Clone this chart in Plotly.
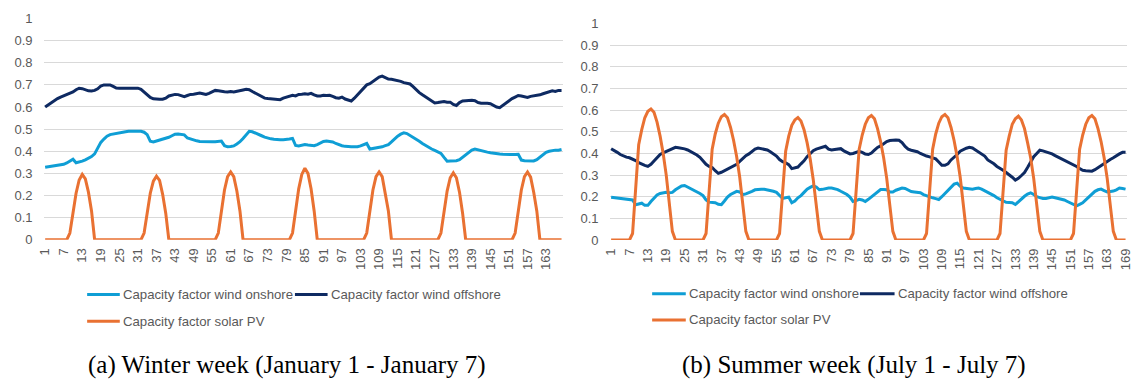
import plotly.graph_objects as go

# ---------------- data ----------------
winter_hours = list(range(1, 169))
summer_hours = list(range(1, 170))
winter_ticks = list(range(1, 169, 6))
summer_ticks = list(range(1, 170, 6))

winter_onshore = [
    0.328, 0.330, 0.331, 0.332, 0.335, 0.338, 0.341, 0.347, 0.355, 0.364, 0.348, 0.350,
    0.355, 0.361, 0.367, 0.376, 0.388, 0.415, 0.440, 0.455, 0.468, 0.475, 0.478, 0.482,
    0.485, 0.486, 0.488, 0.490, 0.490, 0.490, 0.490, 0.490, 0.486, 0.475, 0.445, 0.442,
    0.446, 0.450, 0.454, 0.458, 0.463, 0.470, 0.477, 0.478, 0.477, 0.474, 0.460, 0.455,
    0.452, 0.447, 0.444, 0.443, 0.443, 0.443, 0.443, 0.443, 0.444, 0.446, 0.425, 0.420,
    0.421, 0.424, 0.433, 0.443, 0.458, 0.476, 0.490, 0.488, 0.483, 0.477, 0.470, 0.464,
    0.459, 0.456, 0.454, 0.452, 0.452, 0.452, 0.452, 0.455, 0.458, 0.426, 0.424, 0.428,
    0.430, 0.428, 0.426, 0.425, 0.430, 0.438, 0.444, 0.446, 0.444, 0.442, 0.435, 0.429,
    0.425, 0.422, 0.420, 0.420, 0.420, 0.420, 0.424, 0.430, 0.435, 0.410, 0.412, 0.415,
    0.418, 0.420, 0.425, 0.430, 0.442, 0.456, 0.468, 0.477, 0.483, 0.480, 0.472, 0.463,
    0.455, 0.445, 0.435, 0.426, 0.418, 0.410, 0.404, 0.397, 0.390, 0.372, 0.355, 0.356,
    0.356, 0.357, 0.362, 0.372, 0.384, 0.395, 0.405, 0.410, 0.406, 0.401, 0.400, 0.396,
    0.393, 0.390, 0.389, 0.387, 0.386, 0.385, 0.387, 0.386, 0.385, 0.386, 0.360, 0.357,
    0.357, 0.357, 0.356, 0.362, 0.372, 0.385, 0.395, 0.400, 0.403, 0.405, 0.405, 0.408,
]

winter_offshore = [
    0.600, 0.610, 0.620, 0.630, 0.638, 0.645, 0.650, 0.655, 0.662, 0.668, 0.678, 0.685,
    0.683, 0.677, 0.673, 0.672, 0.675, 0.682, 0.695, 0.700, 0.701, 0.700, 0.693, 0.686,
    0.685, 0.685, 0.684, 0.683, 0.683, 0.682, 0.685, 0.680, 0.668, 0.658, 0.643, 0.637,
    0.635, 0.635, 0.635, 0.640, 0.650, 0.654, 0.657, 0.656, 0.652, 0.647, 0.652, 0.657,
    0.658, 0.661, 0.663, 0.660, 0.657, 0.662, 0.670, 0.675, 0.673, 0.670, 0.669, 0.668,
    0.670, 0.668, 0.672, 0.674, 0.677, 0.680, 0.678, 0.670, 0.663, 0.655, 0.647, 0.640,
    0.638, 0.637, 0.637, 0.636, 0.633, 0.640, 0.645, 0.648, 0.653, 0.650, 0.657, 0.658,
    0.660, 0.658, 0.662, 0.655, 0.650, 0.650, 0.653, 0.652, 0.653, 0.648, 0.642, 0.640,
    0.645, 0.636, 0.630, 0.627, 0.640, 0.655, 0.668, 0.685, 0.700, 0.705, 0.715, 0.727,
    0.735, 0.740, 0.733, 0.726, 0.725, 0.723, 0.720, 0.716, 0.710, 0.707, 0.704, 0.692,
    0.678, 0.665, 0.655, 0.645, 0.638, 0.628, 0.618, 0.620, 0.624, 0.625, 0.622, 0.622,
    0.612, 0.607, 0.620, 0.627, 0.628, 0.630, 0.630, 0.628, 0.620, 0.617, 0.618, 0.617,
    0.615, 0.608, 0.600, 0.597, 0.607, 0.620, 0.630, 0.638, 0.645, 0.652, 0.650, 0.645,
    0.643, 0.648, 0.650, 0.653, 0.655, 0.660, 0.665, 0.670, 0.673, 0.670, 0.675, 0.675,
]

winter_solar_day1 = [0, 0, 0, 0, 0, 0, 0, 0, 0.03, 0.13, 0.21, 0.27, 0.295, 0.275, 0.215, 0.13, 0, 0, 0, 0, 0, 0, 0, 0]
winter_solar_day2 = [0, 0, 0, 0, 0, 0, 0, 0, 0.03, 0.12, 0.21, 0.265, 0.287, 0.268, 0.205, 0.12, 0, 0, 0, 0, 0, 0, 0, 0]
winter_solar_day3 = [0, 0, 0, 0, 0, 0, 0, 0, 0.03, 0.14, 0.225, 0.285, 0.306, 0.285, 0.22, 0.13, 0, 0, 0, 0, 0, 0, 0, 0]
winter_solar_day4 = [0, 0, 0, 0, 0, 0, 0, 0, 0.03, 0.14, 0.23, 0.295, 0.323, 0.30, 0.23, 0.13, 0, 0, 0, 0, 0, 0, 0, 0]
winter_solar_day5 = [0, 0, 0, 0, 0, 0, 0, 0, 0.03, 0.14, 0.225, 0.285, 0.306, 0.285, 0.215, 0.13, 0, 0, 0, 0, 0, 0, 0, 0]
winter_solar_day6 = [0, 0, 0, 0, 0, 0, 0, 0, 0.03, 0.13, 0.22, 0.28, 0.302, 0.28, 0.215, 0.12, 0, 0, 0, 0, 0, 0, 0, 0]
winter_solar_day7 = [0, 0, 0, 0, 0, 0, 0, 0, 0.03, 0.14, 0.225, 0.285, 0.306, 0.283, 0.215, 0.13, 0, 0, 0, 0, 0, 0, 0, 0]
winter_solar = (winter_solar_day1 + winter_solar_day2 + winter_solar_day3 + winter_solar_day4
                + winter_solar_day5 + winter_solar_day6 + winter_solar_day7)

summer_onshore = [
    0.198, 0.196, 0.193, 0.190, 0.188, 0.187, 0.186, 0.185, 0.163, 0.165, 0.170, 0.160,
    0.160, 0.178, 0.195, 0.208, 0.215, 0.218, 0.220, 0.218, 0.220, 0.232, 0.240, 0.250,
    0.252, 0.245, 0.235, 0.228, 0.222, 0.215, 0.205, 0.185, 0.175, 0.175, 0.172, 0.165,
    0.163, 0.180, 0.198, 0.210, 0.218, 0.225, 0.222, 0.210, 0.213, 0.218, 0.225, 0.232,
    0.235, 0.235, 0.234, 0.232, 0.228, 0.225, 0.220, 0.205, 0.192, 0.195, 0.198, 0.172,
    0.180, 0.195, 0.205, 0.220, 0.235, 0.243, 0.250, 0.245, 0.232, 0.234, 0.238, 0.240,
    0.240, 0.238, 0.233, 0.225, 0.218, 0.210, 0.198, 0.178, 0.182, 0.188, 0.185, 0.178,
    0.188, 0.200, 0.212, 0.225, 0.233, 0.233, 0.232, 0.222, 0.222, 0.230, 0.236, 0.240,
    0.238, 0.230, 0.224, 0.222, 0.220, 0.218, 0.210, 0.204, 0.200, 0.195, 0.191, 0.187,
    0.200, 0.215, 0.232, 0.248, 0.258, 0.262, 0.248, 0.240, 0.238, 0.236, 0.235, 0.238,
    0.240, 0.235, 0.228, 0.222, 0.213, 0.205, 0.195, 0.188, 0.180, 0.174, 0.173, 0.172,
    0.164, 0.178, 0.190, 0.202, 0.212, 0.218, 0.210, 0.200, 0.196, 0.192, 0.192, 0.195,
    0.198, 0.195, 0.192, 0.188, 0.185, 0.178, 0.172, 0.165, 0.158, 0.165, 0.172, 0.185,
    0.200, 0.215, 0.225, 0.232, 0.235, 0.228, 0.222, 0.224, 0.226, 0.232, 0.240, 0.238,
    0.235,
]

summer_offshore = [
    0.422, 0.415, 0.405, 0.395, 0.387, 0.383, 0.380, 0.375, 0.367, 0.357, 0.350, 0.345,
    0.340, 0.350, 0.365, 0.380, 0.395, 0.403, 0.410, 0.415, 0.423, 0.428, 0.426, 0.424,
    0.421, 0.416, 0.408, 0.402, 0.393, 0.382, 0.365, 0.350, 0.340, 0.335, 0.320, 0.308,
    0.313, 0.320, 0.327, 0.335, 0.342, 0.350, 0.363, 0.378, 0.390, 0.398, 0.410, 0.420,
    0.425, 0.422, 0.420, 0.416, 0.408, 0.398, 0.388, 0.372, 0.362, 0.357, 0.348, 0.330,
    0.332, 0.337, 0.352, 0.366, 0.385, 0.400, 0.413, 0.420, 0.425, 0.428, 0.433, 0.420,
    0.416, 0.418, 0.420, 0.422, 0.412, 0.403, 0.398, 0.400, 0.404, 0.410, 0.405, 0.397,
    0.395, 0.402, 0.415, 0.428, 0.435, 0.445, 0.455, 0.460, 0.462, 0.462, 0.461, 0.450,
    0.432, 0.420, 0.415, 0.412, 0.408, 0.400, 0.393, 0.388, 0.384, 0.380, 0.375, 0.360,
    0.345, 0.345, 0.352, 0.370, 0.385, 0.395, 0.410, 0.418, 0.424, 0.428, 0.425, 0.416,
    0.408, 0.398, 0.388, 0.370, 0.362, 0.352, 0.340, 0.332, 0.322, 0.312, 0.302, 0.290,
    0.277, 0.285, 0.298, 0.312, 0.335, 0.360, 0.385, 0.400, 0.415, 0.412, 0.408, 0.403,
    0.398, 0.390, 0.383, 0.378, 0.370, 0.362, 0.355, 0.348, 0.340, 0.330, 0.322, 0.320,
    0.318, 0.318, 0.325, 0.335, 0.343, 0.352, 0.362, 0.372, 0.380, 0.390, 0.398, 0.405,
    0.405,
]

summer_solar_day1 = [0, 0, 0, 0, 0, 0, 0, 0.03, 0.25, 0.44, 0.51, 0.565, 0.595, 0.605, 0.59, 0.545, 0.48, 0.40, 0.30, 0.16, 0.04, 0, 0, 0]
summer_solar_day2 = [0, 0, 0, 0, 0, 0, 0, 0.03, 0.24, 0.42, 0.49, 0.54, 0.57, 0.58, 0.565, 0.52, 0.46, 0.385, 0.29, 0.15, 0.04, 0, 0, 0]
summer_solar_day3 = [0, 0, 0, 0, 0, 0, 0, 0.03, 0.23, 0.41, 0.48, 0.53, 0.555, 0.566, 0.55, 0.51, 0.45, 0.375, 0.28, 0.15, 0.04, 0, 0, 0]
summer_solar_day4 = [0, 0, 0, 0, 0, 0, 0, 0.03, 0.24, 0.42, 0.485, 0.535, 0.565, 0.575, 0.56, 0.515, 0.455, 0.38, 0.285, 0.15, 0.04, 0, 0, 0]
summer_solar_day5 = [0, 0, 0, 0, 0, 0, 0, 0.03, 0.24, 0.42, 0.49, 0.54, 0.57, 0.58, 0.565, 0.52, 0.46, 0.385, 0.29, 0.15, 0.04, 0, 0, 0]
summer_solar_day6 = [0, 0, 0, 0, 0, 0, 0, 0.03, 0.235, 0.415, 0.48, 0.535, 0.56, 0.572, 0.555, 0.515, 0.45, 0.38, 0.285, 0.15, 0.04, 0, 0, 0]
summer_solar_day7 = [0, 0, 0, 0, 0, 0, 0, 0.03, 0.24, 0.42, 0.485, 0.535, 0.565, 0.575, 0.56, 0.515, 0.455, 0.38, 0.285, 0.15, 0.04, 0, 0, 0]
summer_solar_last = [0]
summer_solar = (summer_solar_day1 + summer_solar_day2 + summer_solar_day3 + summer_solar_day4
                + summer_solar_day5 + summer_solar_day6 + summer_solar_day7 + summer_solar_last)

series_names = ["Capacity factor wind onshore", "Capacity factor wind offshore", "Capacity factor solar PV"]
captions = ["(a) Winter week (January 1 - January 7)", "(b) Summer week (July 1 - July 7)"]
y_ticks = [0, 0.1, 0.2, 0.3, 0.4, 0.5, 0.6, 0.7, 0.8, 0.9, 1]
y_tick_text = ["0", "0.1", "0.2", "0.3", "0.4", "0.5", "0.6", "0.7", "0.8", "0.9", "1"]

# ---------------- style ----------------
W, H = 1142, 390
C_ON, C_OFF, C_PV = "#0F9ED5", "#0E2A62", "#E97132"
colors = [C_ON, C_OFF, C_PV]
TXT = "#595959"
GRID = "#D9D9D9"
FONT = "Liberation Sans"
LW = 3


def px_x(x):
    """page pixel x -> paper fraction"""
    return x / W


def px_y(y):
    """page pixel y (from top) -> paper fraction"""
    return (H - y) / H


fig = go.Figure()

panels = [
    (winter_hours, [winter_onshore, winter_offshore, winter_solar], "x", "y"),
    (summer_hours, [summer_onshore, summer_offshore, summer_solar], "x2", "y2"),
]
for hours, ys, xa, ya in panels:
    for name, vals, col in zip(series_names, ys, colors):
        fig.add_trace(go.Scatter(x=hours, y=vals, mode="lines", name=name,
                                 line=dict(color=col, width=LW),
                                 xaxis=xa, yaxis=ya, showlegend=False))

xcommon = dict(showgrid=False, zeroline=False, showline=False, ticks="",
               tickangle=-90, tickfont=dict(family=FONT, size=13, color=TXT),
               ticklabelstandoff=5)
ycommon = dict(range=[0, 1], tickvals=y_ticks, ticktext=y_tick_text,
               showgrid=True, gridcolor=GRID, gridwidth=1, zeroline=False,
               showline=False, ticks="", tickfont=dict(family=FONT, size=13, color=TXT),
               ticklabelstandoff=10)

fig.update_layout(
    width=W, height=H,
    margin=dict(l=0, r=0, t=0, b=0),
    paper_bgcolor="white", plot_bgcolor="white",
    xaxis=dict(domain=[px_x(38), px_x(563)], range=[0.5, 168.5],
               tickvals=winter_ticks, ticktext=[str(t) for t in winter_ticks],
               anchor="y", **xcommon),
    yaxis=dict(domain=[px_y(242), px_y(12)], anchor="x", **ycommon),
    xaxis2=dict(domain=[px_x(610), px_x(1133)], range=[0.5, 169.5],
                tickvals=summer_ticks, ticktext=[str(t) for t in summer_ticks],
                anchor="y2", **xcommon),
    yaxis2=dict(domain=[px_y(242.3), px_y(17.3)], anchor="x2", **ycommon),
    showlegend=False,
)

# custom legends (Excel style, two rows) + captions
shapes = []
annotations = []
legend_layouts = [
    [(82, 115, 116, 299), (292, 325, 326, 299), (82, 115, 116, 326.7)],
    [(653, 687, 688, 298.3), (863, 898, 899, 298.3), (653, 687, 688, 325.5)],
]
for entries in legend_layouts:
    for (x0, x1, tx, ly), name, col in zip(entries, series_names, colors):
        shapes.append(dict(type="line", xref="paper", yref="paper",
                           x0=px_x(x0), x1=px_x(x1), y0=px_y(ly), y1=px_y(ly),
                           line=dict(color=col, width=LW)))
        annotations.append(dict(text=name, xref="paper", yref="paper",
                                x=px_x(tx), y=px_y(ly), xanchor="left", yanchor="middle",
                                showarrow=False,
                                font=dict(family=FONT, size=13.2, color=TXT)))

caption_centers = [(283.5, 372), (857, 372)]
for (cx, cy), cap in zip(caption_centers, captions):
    annotations.append(dict(text=cap, xref="paper", yref="paper",
                            x=px_x(cx), y=px_y(cy), xanchor="center", yanchor="middle",
                            showarrow=False,
                            font=dict(family="Liberation Serif", size=25, color="#000000")))

fig.update_layout(shapes=shapes, annotations=annotations)

# remove the default page margin so the figure sits at the window origin
fig.write_html("out.html", config={"displayModeBar": False},
               post_script="document.body.style.margin='0';document.body.style.overflow='hidden';")
